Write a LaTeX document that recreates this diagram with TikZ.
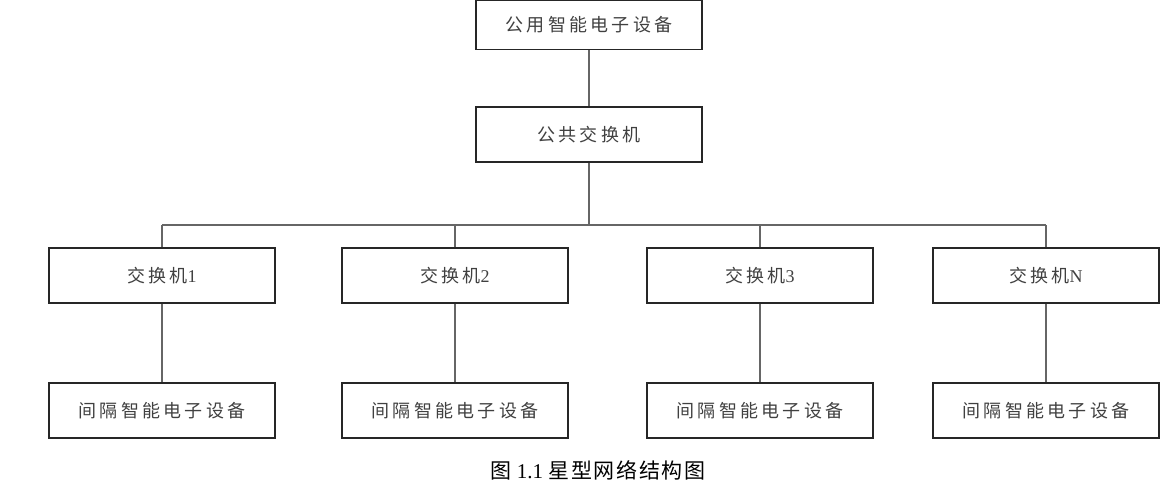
\documentclass[tikz,border=0pt]{standalone}
\usepackage{fontspec}
\setmainfont{Liberation Serif}
\newfontfamily\cjk[LetterSpace=18]{Noto Sans CJK SC}
\newfontfamily\cjkcap[LetterSpace=8]{Noto Sans CJK SC}
\begin{document}
\begin{tikzpicture}[x=1pt,y=-1pt,
  boxnode/.style={draw=black!85, line width=1.5pt, minimum width=226pt, minimum height=55pt, inner sep=0pt, font=\fontsize{18}{20}\selectfont, text=black!75},
  wire/.style={draw=black!60, line width=1.5pt}]
\useasboundingbox (0,0) rectangle (1171,491);
\node[boxnode, minimum height=49pt] (top) at (589,25) {{\cjk 公用智能电子设备}};
\node[boxnode] (mid) at (589,134.5) {{\cjk 公共交换机}};
\node[boxnode] (s1) at (162,275.5) {{\cjk 交换机}1};
\node[boxnode] (s2) at (455,275.5) {{\cjk 交换机}2};
\node[boxnode] (s3) at (760,275.5) {{\cjk 交换机}3};
\node[boxnode] (s4) at (1046,275.5) {{\cjk 交换机}N};
\node[boxnode] (d1) at (162,410.5) {{\cjk 间隔智能电子设备}};
\node[boxnode] (d2) at (455,410.5) {{\cjk 间隔智能电子设备}};
\node[boxnode] (d3) at (760,410.5) {{\cjk 间隔智能电子设备}};
\node[boxnode] (d4) at (1046,410.5) {{\cjk 间隔智能电子设备}};
\coordinate (bus) at (589,225);
\node[font=\fontsize{21}{24}\selectfont] (cap) at (598,470) {{\cjkcap 图} 1.1 {\cjkcap 星型网络结构图}};
\draw[wire] (top) -- (mid);
\draw[wire] (mid.south) -- (bus);
\draw[wire] (s1.north |- bus) -- (s4.north |- bus);
\foreach \i in {1,2,3,4} {
  \draw[wire] (s\i.north) -- (s\i.north |- bus);
  \draw[wire] (s\i) -- (d\i);
}
\end{tikzpicture}
\end{document}
